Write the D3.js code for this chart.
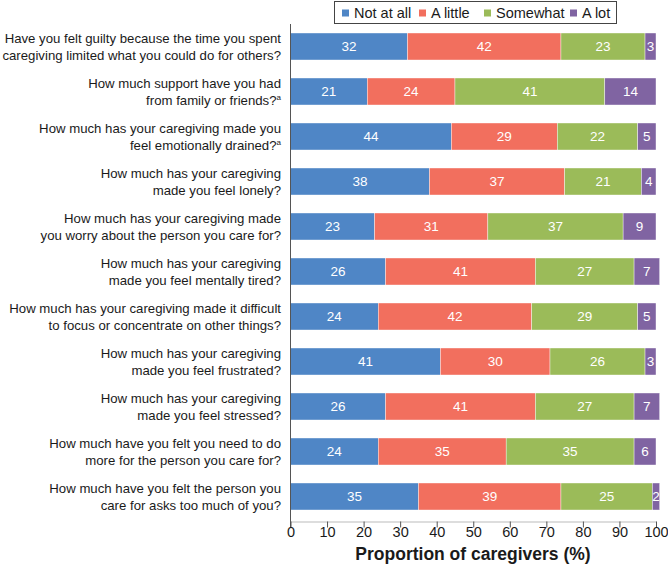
<!DOCTYPE html>
<html><head><meta charset="utf-8">
<script src="https://cdn.jsdelivr.net/npm/d3@7"></script>
<style>body{margin:0;background:#fff;} svg{display:block;font-family:"Liberation Sans",Arial,sans-serif;}</style>
</head><body>
<svg id="chart" width="668" height="566"></svg>
<script>
const categories = [
  ["Have you felt guilty because the time you spent", "caregiving limited what you could do for others?"],
  ["How much support have you had", "from family or friends?|a"],
  ["How much has your caregiving made you", "feel emotionally drained?|a"],
  ["How much has your caregiving", "made you feel lonely?"],
  ["How much has your caregiving made", "you worry about the person you care for?"],
  ["How much has your caregiving", "made you feel mentally tired?"],
  ["How much has your caregiving made it difficult", "to focus or concentrate on other things?"],
  ["How much has your caregiving", "made you feel frustrated?"],
  ["How much has your caregiving", "made you feel stressed?"],
  ["How much have you felt you need to do", "more for the person you care for?"],
  ["How much have you felt the person you", "care for asks too much of you?"]
];
const seriesNames = ["Not at all", "A little", "Somewhat", "A lot"];
const notAtAll = [32, 21, 44, 38, 23, 26, 24, 41, 26, 24, 35];
const aLittle  = [42, 24, 29, 37, 31, 41, 42, 30, 41, 35, 39];
const somewhat = [23, 41, 22, 21, 37, 27, 29, 26, 27, 35, 25];
const aLot     = [3, 14, 5, 4, 9, 7, 5, 3, 7, 6, 2];
const xTicks = [0, 10, 20, 30, 40, 50, 60, 70, 80, 90, 100];
const colors = ["#4f86c6", "#f26f5e", "#9bbb59", "#8064a2"];

const seriesValues = [notAtAll, aLittle, somewhat, aLot];
const svg = d3.select("#chart");
const x = d3.scaleLinear().domain([0, 100]).range([290.5, 656]);
const y = d3.scaleBand().domain(d3.range(categories.length)).range([24, 519]).paddingInner(0.4).paddingOuter(0.2);

const rows = categories.map((c, i) => {
  const o = {i};
  seriesNames.forEach((s, k) => o[s] = seriesValues[k][i]);
  return o;
});
const stack = d3.stack().keys(seriesNames)(rows);

stack.forEach((layer, k) => {
  const g = svg.append("g");
  g.selectAll("rect").data(layer).join("rect")
    .attr("x", d => x(d[0]))
    .attr("y", (d, i) => y(i))
    .attr("width", d => x(d[1]) - x(d[0]))
    .attr("height", y.bandwidth())
    .attr("fill", colors[k])
    .attr("stroke", "#ffffff").attr("stroke-width", 0.4);
  g.selectAll("text").data(layer).join("text")
    .attr("x", d => (x(d[0]) + x(d[1])) / 2)
    .attr("y", (d, i) => y(i) + y.bandwidth() / 2)
    .attr("dy", "0.36em")
    .attr("text-anchor", "middle")
    .attr("fill", "#ffffff")
    .attr("font-size", 13.5)
    .text(d => d[1] - d[0]);
});

const lab = svg.append("g");
categories.forEach((lines, i) => {
  const cy = y(i) + y.bandwidth() / 2;
  lines.forEach((ln, j) => {
    const t = lab.append("text")
      .attr("x", 281)
      .attr("y", cy + (j === 0 ? -8.5 : 8.5))
      .attr("dy", "0.36em")
      .attr("text-anchor", "end")
      .attr("font-size", 13.2)
      .attr("fill", "#1a1a1a");
    const parts = ln.split("|");
    t.append("tspan").text(parts[0]);
    if (parts[1]) t.append("tspan").attr("font-size", 8).attr("dy", "-0.6em").text(parts[1]);
  });
});

svg.append("line").attr("x1", 290.5).attr("x2", 290.5).attr("y1", 24).attr("y2", 527)
  .attr("stroke", "#555").attr("stroke-width", 1);

const xAxis = d3.axisBottom(x).tickValues(xTicks).tickSize(6).tickSizeOuter(0);
const xg = svg.append("g").attr("transform", "translate(0,521.5)").call(xAxis);
xg.select(".domain").attr("stroke", "#bbb");
xg.selectAll(".tick line").attr("stroke", "#555");
xg.selectAll(".tick text").attr("font-size", 14.5).attr("fill", "#1a1a1a")
  .attr("font-family", "Liberation Sans, Arial, sans-serif").attr("y", 5);

svg.append("text").attr("x", 473).attr("y", 560).attr("text-anchor", "middle")
  .attr("font-size", 17.5).attr("font-weight", "bold").attr("fill", "#1a1a1a")
  .text("Proportion of caregivers (%)");

const leg = svg.append("g");
leg.append("rect").attr("x", 334.5).attr("y", 1.5).attr("width", 282).attr("height", 22)
  .attr("fill", "#fff").attr("stroke", "#444").attr("stroke-width", 1);
const legX = [342, 419, 484, 570];
seriesNames.forEach((s, k) => {
  leg.append("rect").attr("x", legX[k]).attr("y", 9.5).attr("width", 7).attr("height", 7).attr("fill", colors[k]);
  leg.append("text").attr("x", legX[k] + 12).attr("y", 13).attr("dy", "0.36em")
    .attr("font-size", 14.5).attr("fill", "#1a1a1a").text(s);
});
</script>
</body></html>
